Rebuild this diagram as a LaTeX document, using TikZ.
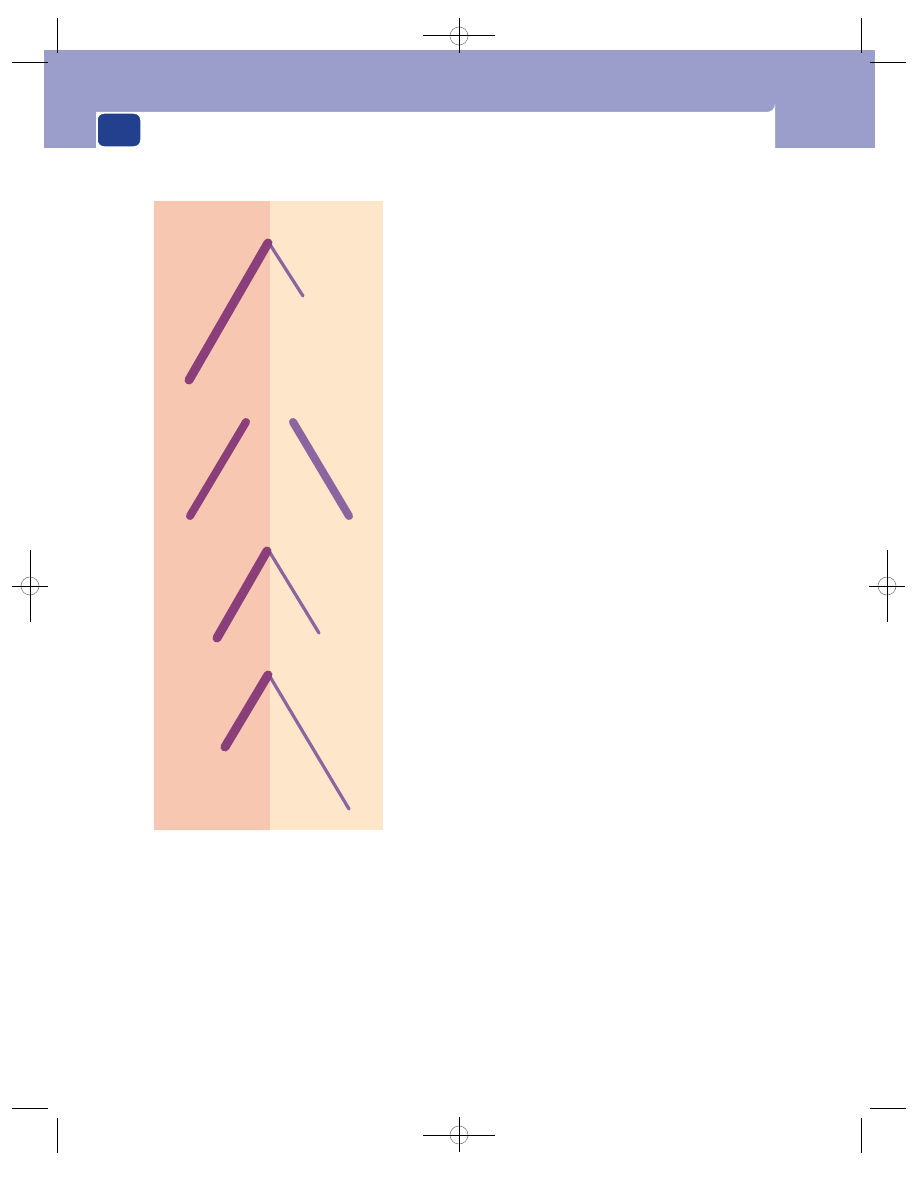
\documentclass[tikz,border=0pt]{standalone}
\definecolor{bandblue}{HTML}{9B9DCB}
\definecolor{boxblue}{HTML}{23408E}
\definecolor{salmon}{HTML}{F8C7B1}
\definecolor{cream}{HTML}{FEE6CA}
\definecolor{plum}{HTML}{8B3F7A}
\definecolor{lilac}{HTML}{8C65A0}
\tikzset{
  cropline/.style={line width=1pt, black},
  regcircle/.style={line width=0.6pt, gray},
  thickstroke/.style={line width=9pt, plum, line cap=round},
  thinstroke/.style={line width=3.2pt, lilac, line cap=round},
}
\begin{document}
\begin{tikzpicture}[x=1pt,y=-1pt]

        \useasboundingbox[fill=white] (0,0) rectangle (918,1188);

        % Header band
        \fill[bandblue] (44,50) rectangle (875,148);
        \fill[white] (96,148) -- (96,112) -- (767,112)
            arc[start angle=90, end angle=0, radius=8] -- (775,148) -- cycle;
        \fill[bandblue] (44,112) rectangle (96,148);
        \filldraw[boxblue, draw=white, line width=1.5pt, rounded corners=7pt]
            (97,113) rectangle (141,147);

        % Crop marks
        \draw[cropline] (57,18) -- (57,53);
        \draw[cropline] (12,63) -- (48,63);
        \draw[cropline] (861,18) -- (861,53);
        \draw[cropline] (870,63) -- (906,63);
        \draw[cropline] (12,1108) -- (48,1108);
        \draw[cropline] (57,1118) -- (57,1153);
        \draw[cropline] (870,1108) -- (906,1108);
        \draw[cropline] (861,1118) -- (861,1153);

        % Registration marks
        \foreach \cx/\cy in {459/36, 459/1135} {
            \draw[regcircle] (\cx,\cy) circle (9);
            \draw[cropline] (\cx-36,\cy) -- (\cx+36,\cy);
            \draw[cropline] (\cx,\cy-18) -- (\cx,\cy+17);
        }
        \foreach \cx/\cy in {30/586, 887/586} {
            \draw[regcircle] (\cx,\cy) circle (9);
            \draw[cropline] (\cx-18,\cy) -- (\cx+18,\cy);
            \draw[cropline] (\cx,\cy-36) -- (\cx,\cy+36);
        }

        % Two-tone panel
        \fill[salmon] (154,201) rectangle (270,830);
        \fill[cream]  (270,201) rectangle (383,830);

        % First pair
        \draw[thinstroke]  (269,243) -- (303,296);
        \draw[thickstroke] (189,380) -- (268,243);

        % Second pair, apart
        \draw[thickstroke, line width=8pt] (190,516) -- (246,422);
        \draw[thickstroke, line width=8pt, lilac] (293,422) -- (349,516);

        % Third pair
        \draw[thinstroke]  (269,551) -- (319,633);
        \draw[thickstroke] (217,638) -- (267,551);

        % Fourth pair
        \draw[thinstroke]  (269,675) -- (349,809);
        \draw[thickstroke] (225,747) -- (268,675);

    \end{tikzpicture}
\end{document}
